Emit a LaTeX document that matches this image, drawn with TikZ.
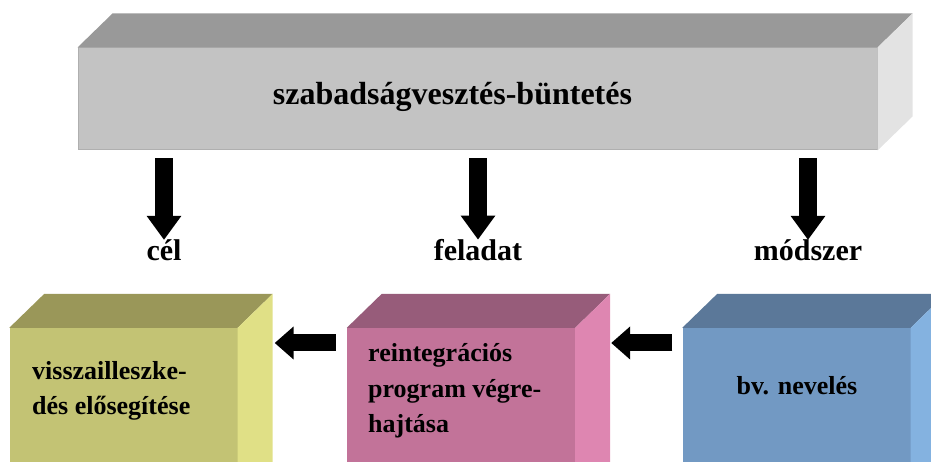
\documentclass[tikz,border=0pt]{standalone}
\usepackage{fontspec}
\setmainfont{Liberation Serif}
\usetikzlibrary{arrows.meta}

\definecolor{greytop}{HTML}{999999}
\definecolor{greyfront}{HTML}{C3C3C3}
\definecolor{greyside}{HTML}{E3E3E3}
\definecolor{olivetop}{HTML}{9A9759}
\definecolor{olivefront}{HTML}{C3C374}
\definecolor{oliveside}{HTML}{E0E086}
\definecolor{pinktop}{HTML}{975C7A}
\definecolor{pinkfront}{HTML}{C27399}
\definecolor{pinkside}{HTML}{DE86B1}
\definecolor{bluetop}{HTML}{5B7899}
\definecolor{bluefront}{HTML}{7299C3}
\definecolor{blueside}{HTML}{84B2E0}

\tikzset{
  frontface/.style={inner sep=0pt, minimum width=228pt, minimum height=170pt},
  boxtext/.style={font=\fontsize{26}{35.5}\selectfont\bfseries, align=left, inner sep=0pt},
  catname/.style={font=\fontsize{30}{36}\selectfont\bfseries, inner sep=0pt},
  downarrow/.style={line width=18pt, -{Triangle[width=33pt,length=24pt]}},
  leftarrow/.style={line width=17pt, -{Triangle[width=32pt,length=19pt]}}
}

\begin{document}
\begin{tikzpicture}[x=1pt,y=1pt]

	\useasboundingbox (0,0) rectangle (931,462);
	\clip (0,0) rectangle (931,462);

	%the long box on top
	\node[inner sep=0pt, fill=greyfront, draw=greyfront!90!black, line width=1pt, minimum width=799pt, minimum height=102pt] (prison) at (477.5,363) {};
	\fill[greytop] (prison.north west) -- ++(35,34) -- ([shift={(35,34)}]prison.north east) -- (prison.north east) -- cycle;
	\fill[greyside] (prison.north east) -- ++(35,34) -- ([shift={(35,34)}]prison.south east) -- (prison.south east) -- cycle;
	\node[font=\fontsize{32}{38}\selectfont\bfseries, inner sep=0pt, anchor=base] (prisontext) at (452.5,357) {szabadságvesztés-büntetés};

	%the three headings
	\node[catname, anchor=base] (goal) at (164,201) {cél};
	\node[catname, anchor=base] (task) at (478,201) {feladat};
	\node[catname, anchor=base] (method) at (808,201) {módszer};

	\draw[downarrow, shorten <=8pt] (prison.south -| goal) -- (goal.north);
	\draw[downarrow, shorten <=8pt] (prison.south -| task) -- (task.north);
	\draw[downarrow, shorten <=8pt] (prison.south -| method) -- (method.north);

	%the boxes below
	\node[frontface, fill=olivefront] (goalbox) at (123.5,49) {};
	\fill[olivetop] (goalbox.north west) -- ++(35,34) -- ([shift={(35,34)}]goalbox.north east) -- (goalbox.north east) -- cycle;
	\fill[oliveside] (goalbox.north east) -- ++(35,34) -- ([shift={(35,34)}]goalbox.south east) -- (goalbox.south east) -- cycle;
	\coordinate (goaledge) at ([xshift=35pt]goalbox.east);

	\node[frontface, fill=pinkfront] (taskbox) at (461,49) {};
	\fill[pinktop] (taskbox.north west) -- ++(35,34) -- ([shift={(35,34)}]taskbox.north east) -- (taskbox.north east) -- cycle;
	\fill[pinkside] (taskbox.north east) -- ++(35,34) -- ([shift={(35,34)}]taskbox.south east) -- (taskbox.south east) -- cycle;
	\coordinate (taskedge) at ([xshift=35pt]taskbox.east);

	\node[frontface, fill=bluefront] (methodbox) at (796.5,49) {};
	\fill[bluetop] (methodbox.north west) -- ++(35,34) -- ([shift={(35,34)}]methodbox.north east) -- (methodbox.north east) -- cycle;
	\fill[blueside] (methodbox.north east) -- ++(35,34) -- ([shift={(35,34)}]methodbox.south east) -- (methodbox.south east) -- cycle;

	\node[boxtext, anchor=base west] (goaltext) at (32,47) {visszailleszke-\\dés elősegítése};
	\node[boxtext, anchor=base west] (tasktext) at (368,29) {reintegrációs\\program végre-\\hajtása};
	\node[boxtext, anchor=base] (methodtext) at (797,67) {bv. nevelés};

	\draw[leftarrow, shorten <=11pt, shorten >=2pt] (taskbox.west |- 0,119) -- (goaledge |- 0,119);
	\draw[leftarrow, shorten <=10pt, shorten >=1pt] (methodbox.west |- 0,119) -- (taskedge |- 0,119);

\end{tikzpicture}
\end{document}
